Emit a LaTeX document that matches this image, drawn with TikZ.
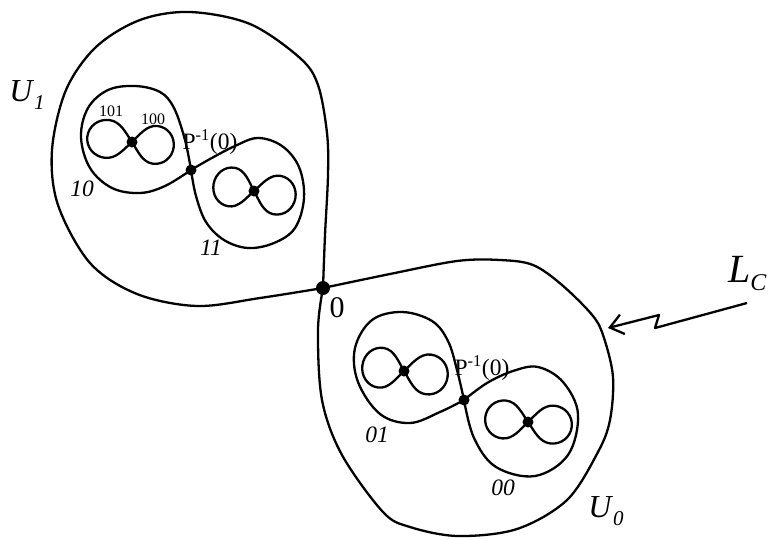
\documentclass[tikz,border=0pt]{standalone}
\usepackage{fontspec}
\setmainfont{Liberation Serif}
\usetikzlibrary{arrows.meta}
\tikzset{
  curve/.style={line width=2.3pt, line join=round},
  bigdot/.style={circle, fill=black, inner sep=0pt, minimum size=14pt},
  dot/.style={circle, fill=black, inner sep=0pt, minimum size=11pt},
  lbl/.style={inner sep=0pt, font=\fontsize{16}{16}\selectfont},
  ilbl/.style={inner sep=0pt, font=\fontsize{23.5}{23.5}\selectfont\itshape},
  plbl/.style={inner sep=0pt, font=\fontsize{23.5}{23.5}\selectfont},
}
\newcommand\mylobe[3]{% direction sign, length, half height
  \draw[curve] (0,0) .. controls (#1*0.16*#2,0.42*#3) and (#1*0.3*#2,#3) .. (#1*0.56*#2,#3)
      .. controls (#1*0.81*#2,#3) and (#1*#2,0.55*#3) .. (#1*#2,0)
      .. controls (#1*#2,-0.55*#3) and (#1*0.81*#2,-#3) .. (#1*0.56*#2,-#3)
      .. controls (#1*0.3*#2,-#3) and (#1*0.16*#2,-0.42*#3) .. (0,0);}
\newcommand\myeight[5]{%
  \begin{scope}[shift={(#1.center)},rotate=#2]
    \mylobe{-1}{#3}{#5}
    \mylobe{1}{#4}{#5}
  \end{scope}}
\begin{document}
\begin{tikzpicture}[x=1pt,y=-1pt]
\useasboundingbox (0,0) rectangle (769,539);
% key points
\node[bigdot] (O) at (323,288) {};
\node[dot] (P1) at (191,170) {};
\node[dot] (P2) at (464,400) {};
\node[dot] (e10) at (132,142) {};
\node[dot] (e11) at (254,191) {};
\node[dot] (e01) at (404,371) {};
\node[dot] (e00) at (528,422) {};
% upper lobe U1
\draw[curve] plot[smooth,tension=0.55] coordinates {(O.center) (325,235) (328,175) (327,133) (318,85) (300,58) (250,24) (190,12) (140,20) (96,47) (66,90) (52,150) (58,205) (90,263) (137,294) (197,306) (260,298) (O.center)};
% lower lobe U0
\draw[curve] plot[smooth,tension=0.55] coordinates {(O.center) (390,274) (457,261) (500,260) (533,265) (562,285) (593,316) (604,338) (613,377) (610,420) (598,452) (567,500) (517,529) (458,536) (410,527) (383,512) (342,455) (322,400) (318,330) (O.center)};
% loop 10
\draw[curve] plot[smooth,tension=0.6] coordinates {(P1.center) (185,140) (174,108) (160,92) (135,86) (108,90) (88,108) (81,137) (90,168) (112,188) (140,193) (165,186) (P1.center)};
% loop 11
\draw[curve] plot[smooth,tension=0.6] coordinates {(P1.center) (210,159) (235,146) (258,138) (282,146) (299,167) (304,198) (295,228) (274,243) (248,248) (224,240) (206,222) (196,196) (P1.center)};
% loop 01
\draw[curve] plot[smooth,tension=0.6] coordinates {(P2.center) (457,370) (448,341) (432,321) (402,312) (372,320) (355,348) (358,382) (380,414) (410,423) (440,412) (P2.center)};
% loop 00
\draw[curve] plot[smooth,tension=0.6] coordinates {(P2.center) (487,383) (513,371) (538,367) (563,382) (578,414) (568,455) (535,476) (496,467) (474,438) (P2.center)};
% figure eights
\myeight{e10}{-7}{45}{42}{19}
\myeight{e11}{-10}{41}{42}{19.5}
\myeight{e01}{-8}{42}{44}{20}
\myeight{e00}{-6}{43}{44}{19}
% arrow
\coordinate (Ls) at (747,303);
\coordinate (z1) at (655,328);
\coordinate (z2) at (659,315);
\coordinate (tip) at (608,328);
\draw[curve, -{Straight Barb[length=13pt,width=20pt,line width=2.3pt]}] (Ls) -- (z1) -- (z2) -- (tip);
% labels
\node[inner sep=0pt, font=\fontsize{32}{32}\selectfont] (Ul) at (27,95) {\textit{U}\raisebox{-0.25em}{\fontsize{21}{21}\selectfont\textit{1}}};
\node[inner sep=0pt, font=\fontsize{32}{32}\selectfont] (U0l) at (606,511) {\textit{U}\raisebox{-0.25em}{\fontsize{21}{21}\selectfont\textit{0}}};
\node[inner sep=0pt, font=\fontsize{40}{40}\selectfont, anchor=west] (Lc) at (728,274) {\textit{L}\raisebox{-0.2em}{\fontsize{24}{24}\selectfont\textit{C}}};
\node[inner sep=0pt, font=\fontsize{30}{30}\selectfont] (Ol) at (337,308) {0};
\node[lbl] (l101) at (111,111) {101};
\node[lbl] (l100) at (153,119) {100};
\node[plbl] (p1l) at (210,142) {P\textsuperscript{-1}(0)};
\node[plbl] (p2l) at (482,368) {P\textsuperscript{-1}(0)};
\node[ilbl] (l10) at (82,189) {10};
\node[ilbl] (l11) at (211,248) {11};
\node[ilbl] (l01) at (377,435) {01};
\node[ilbl] (l00) at (503,488) {00};
\end{tikzpicture}
\end{document}
